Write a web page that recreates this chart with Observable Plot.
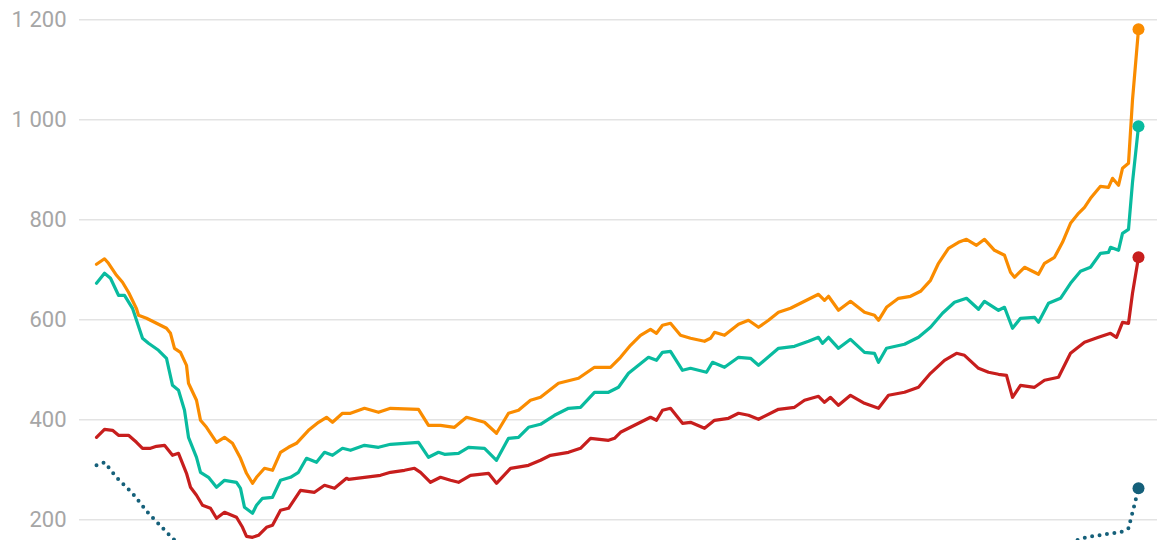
<!DOCTYPE html>
<html>
<head>
<meta charset="utf-8">
<script src="https://cdn.jsdelivr.net/npm/d3@7"></script>
<script src="https://cdn.jsdelivr.net/npm/@observablehq/plot@0.6"></script>
<style>
  html, body { margin: 0; padding: 0; background: #fff; overflow: hidden; }
  #chart svg { display: block; }
</style>
</head>
<body>
<div id="chart"></div>
<script>
// Y-axis tick values
const yTicks = [200, 400, 600, 800, 1000, 1200];

// Orange series
const orangeWeeks = [0,4,6,10,13,16,20,21,25,30,35,37,39,42,45,46,50,52,55,60,64,68,72,75,78,80,84,88,92,96,100,106,111,115,118,123,127,134,141,147,161,166,172,179,185,194,200,206,211,217,222,231,241,249,257,262,267,272,277,280,283,287,292,297,304,307,309,314,321,326,331,336,341,347,352,357,361,364,366,371,377,384,389,391,395,401,407,412,417,421,426,431,435,440,444,449,454,457,459,464,471,474,479,483,487,491,494,497,502,506,508,511,513,516,518,521];
const orangeValues = [711,722,713,689,675,655,622,609,603,593,583,573,543,535,509,473,439,399,385,355,365,353,323,293,273,285,303,299,335,345,353,379,395,405,395,413,413,423,415,423,421,389,389,385,405,395,373,413,419,439,445,473,483,505,505,525,549,569,581,573,589,593,569,563,557,563,575,569,591,599,585,599,615,623,633,643,651,639,647,619,637,615,609,599,625,643,647,657,679,713,743,755,761,749,761,739,729,695,685,705,691,713,725,755,793,813,825,843,867,865,883,869,903,913,1040,1181];

// Teal series
const tealWeeks = [0,4,7,11,14,18,23,26,31,35,38,41,44,46,50,52,56,60,64,70,72,74,78,80,83,88,92,97,101,105,110,114,118,123,127,134,141,147,154,161,166,171,174,181,186,194,200,206,211,216,222,229,236,242,249,256,261,266,271,276,280,283,287,293,297,305,308,314,321,327,331,341,349,356,361,363,366,371,377,384,389,391,395,404,411,417,423,429,435,441,444,451,454,458,462,469,471,476,482,487,492,497,502,506,507,511,513,516,518,521];
const tealValues = [673,693,683,649,649,623,563,553,539,523,469,459,419,365,325,295,285,265,279,275,263,225,213,229,243,245,279,285,295,323,315,335,329,343,339,349,345,351,353,355,325,335,331,333,345,343,319,363,365,385,391,409,423,425,455,455,465,493,509,525,519,535,537,499,503,495,515,505,525,523,509,543,547,557,565,553,565,543,561,535,533,515,543,551,565,585,613,635,643,621,637,619,625,583,603,605,595,633,643,673,697,705,733,735,745,739,773,781,875,987];

// Red series
const redWeeks = [0,4,8,11,16,20,23,27,30,34,38,41,45,47,50,53,57,60,64,70,73,75,78,81,85,88,92,96,102,109,114,119,125,126,134,142,147,154,159,162,167,172,177,181,187,196,200,207,216,222,227,236,242,247,256,259,262,267,272,277,280,283,287,293,297,304,309,316,321,326,331,341,349,354,361,364,367,371,377,384,391,396,404,411,417,424,430,434,441,446,451,455,458,462,469,474,481,487,494,501,507,510,513,516,518,521];
const redValues = [365,381,379,369,369,355,343,343,347,349,329,333,293,265,249,229,223,203,215,205,185,167,165,169,185,189,219,223,259,255,269,263,283,281,285,289,295,299,303,295,275,285,279,275,289,293,273,303,309,319,329,335,343,363,359,363,375,385,395,405,399,419,423,393,395,383,399,403,413,409,401,421,425,439,447,435,445,429,449,433,423,449,455,465,493,519,533,529,503,495,491,489,445,469,465,479,485,533,555,565,573,565,595,593,653,725];

// Dark blue (dotted) series
const blueWeeks = [0,4,10,18,26,38,45,55,70,90,110,130,160,180,200,230,260,290,320,350,380,410,440,460,480,489,495,501,507,512,516,517,519,521];
const blueValues = [309,315,285,253,213,163,140,120,100,105,115,120,125,118,115,125,135,140,142,145,140,142,150,135,145,158,165,169,173,175,183,199,230,263];

const series = [
  {name: "blue",   color: "#15607a", weeks: blueWeeks,   values: blueValues,   dotted: true},
  {name: "red",    color: "#c71e1d", weeks: redWeeks,    values: redValues,    dotted: false},
  {name: "teal",   color: "#09bb9f", weeks: tealWeeks,   values: tealValues,   dotted: false},
  {name: "orange", color: "#fa8c00", weeks: orangeWeeks, values: orangeValues, dotted: false}
];

const rowsOf = s => s.weeks.map((w, i) => ({series: s.name, week: w, value: s.values[i]}));

const marks = [
  Plot.ruleY(yTicks, {stroke: "#e3e3e3", strokeWidth: 1.5}),
  Plot.axisY(yTicks, {
    tickSize: 0, tickPadding: 13, fontSize: 22, fill: "#a6a6a6",
    tickFormat: d => d3.format(",")(d).replace(/,/g, " "), label: null
  })
];
for (const s of series) {
  const rows = rowsOf(s);
  marks.push(Plot.line(rows, {
    x: "week", y: "value", stroke: s.color,
    strokeWidth: s.dotted ? 4 : 3.2,
    strokeDasharray: s.dotted ? "0 7.5" : null,
    strokeLinecap: "round", strokeLinejoin: "round",
    clip: true
  }));
}
for (const s of series) {
  const rows = rowsOf(s);
  marks.push(Plot.dot([rows[rows.length - 1]], {x: "week", y: "value", fill: s.color, r: 6, clip: true}));
}

const chart = Plot.plot({
  width: 1170,
  height: 540,
  marginLeft: 79,
  marginRight: 13,
  marginTop: 0,
  marginBottom: 0,
  style: {fontFamily: "Roboto, sans-serif", background: "#fff", overflow: "hidden"},
  x: {domain: [0, 521], insetLeft: 17, insetRight: 19, axis: null},
  y: {domain: [158.6, 1238.6], axis: null},
  marks
});
document.getElementById("chart").appendChild(chart);
</script>
</body>
</html>
